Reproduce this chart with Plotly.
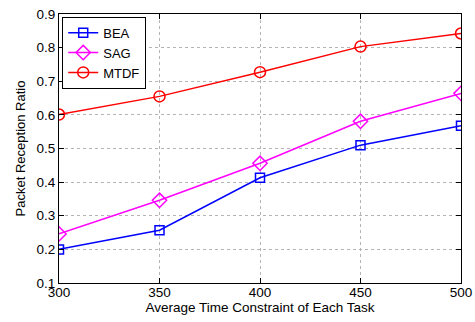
import plotly.graph_objects as go

x_vals = [300, 350, 400, 450, 500]
bea = [0.200, 0.257, 0.413, 0.510, 0.568]
sag = [0.246, 0.346, 0.456, 0.581, 0.664]
mtdf = [0.601, 0.655, 0.727, 0.803, 0.842]
x_ticks = [300, 350, 400, 450, 500]
y_ticks = [0.1, 0.2, 0.3, 0.4, 0.5, 0.6, 0.7, 0.8, 0.9]

fig = go.Figure()
fig.add_trace(go.Scatter(x=x_vals, y=bea, name="BEA", mode="lines+markers",
                         line=dict(color="#0000ff", width=1.5),
                         marker=dict(symbol="square-open", size=9, color="#0000ff", line=dict(width=1.5))))
fig.add_trace(go.Scatter(x=x_vals, y=sag, name="SAG", mode="lines+markers",
                         line=dict(color="#ff00ff", width=1.5),
                         marker=dict(symbol="diamond-open", size=11, color="#ff00ff", line=dict(width=1.5))))
fig.add_trace(go.Scatter(x=x_vals, y=mtdf, name="MTDF", mode="lines+markers",
                         line=dict(color="#ff0000", width=1.5),
                         marker=dict(symbol="circle-open", size=11, color="#ff0000", line=dict(width=1.5))))

axis_common = dict(showline=True, linecolor="black", linewidth=1.2, mirror="ticks",
                   ticks="inside", ticklen=5, tickcolor="black",
                   showgrid=True, gridcolor="#b4b4b4", griddash="dot", gridwidth=0.8,
                   zeroline=False, tickfont=dict(size=13.5, color="black"), automargin=False,
                   ticklabeloverflow="allow")

fig.update_xaxes(range=[300, 500], tickvals=x_ticks, ticktext=[str(v) for v in x_ticks],
                 ticklabelstandoff=-3,
                 title=dict(text="Average Time Constraint of Each Task", font=dict(size=13.5, color="black"), standoff=0),
                 **axis_common)
fig.update_yaxes(range=[0.1, 0.9], tickvals=y_ticks, ticktext=[f"{v:.1f}" for v in y_ticks],
                 ticklabelstandoff=0,
                 title=dict(text="Packet Reception Ratio", font=dict(size=13, color="black"), standoff=7),
                 **axis_common)

fig.update_layout(
    width=475, height=322,
    margin=dict(l=59, r=14, t=14, b=39, autoexpand=False),
    paper_bgcolor="white", plot_bgcolor="white",
    font=dict(family="Liberation Sans, Arial, sans-serif", color="black"),
    legend=dict(x=0.008, y=0.99, xanchor="left", yanchor="top",
                bordercolor="black", borderwidth=1, bgcolor="white",
                font=dict(size=13), tracegroupgap=0, itemwidth=30),
    showlegend=True,
)

# Remove the default 8px page margin so the figure fills the window exactly.
fig.write_html("out.html", config={"displayModeBar": False},
               post_script="document.body.style.margin='0';document.body.style.overflow='hidden';")
